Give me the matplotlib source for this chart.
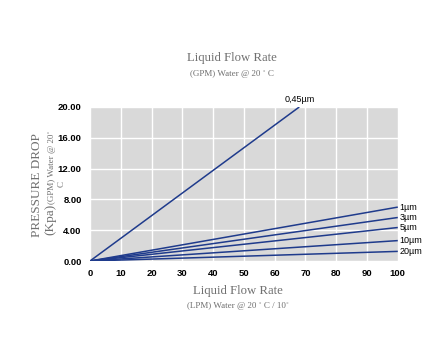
import matplotlib
matplotlib.use("Agg")
import matplotlib.pyplot as plt

# flow in LPM, pressure drop in Kpa (straight lines from origin)
labels = ["0,45µm", "1µm", "3µm", "5µm", "10µm", "20µm"]
x_end = [68, 100, 100, 100, 100, 100]
y_end = [20.0, 7.0, 5.65, 4.35, 2.65, 1.25]

xticks = [0, 10, 20, 30, 40, 50, 60, 70, 80, 90, 100]
yticks = [0, 4, 8, 12, 16, 20]

line_color = "#1f3b8c"
title_color = "#707070"

fig = plt.figure(figsize=(4.41, 3.37), dpi=100)
ax = fig.add_axes([0.204, 0.2255, 0.698, 0.457])
ax.set_facecolor("#d9d9d9")

for lab, xe, ye in zip(labels, x_end, y_end):
    ax.plot([0, xe], [0, ye], color=line_color, lw=1.1, solid_capstyle="butt")
    if xe < 100:
        ax.text(xe, ye + 0.4, lab, ha="center", va="bottom", fontsize=6.5,
                family="Liberation Sans", clip_on=False)
    else:
        ax.text(xe + 0.5, ye, lab, ha="left", va="center", fontsize=6.5,
                family="Liberation Sans", clip_on=False)

ax.set_xlim(0, 100)
ax.set_ylim(0, 20)
ax.set_xticks(xticks)
ax.set_yticks(yticks)
ax.set_xticklabels([str(v) for v in xticks])
ax.set_yticklabels(["%.2f" % v for v in yticks])
ax.tick_params(length=0, labelsize=6.8, pad=6)
for lbl in ax.get_xticklabels() + ax.get_yticklabels():
    lbl.set_family("Liberation Sans")
    lbl.set_fontweight("bold")
ax.grid(True, color="white", lw=1)
ax.set_axisbelow(True)
for s in ax.spines.values():
    s.set_visible(False)

serif = "Liberation Serif"
fig.text(0.526, 0.82, "Liquid Flow Rate", ha="center", fontsize=9.2,
         family=serif, color=title_color)
fig.text(0.526, 0.775, "(GPM) Water @ 20 ˚ C", ha="center", fontsize=6.5,
         family=serif, color=title_color)
fig.text(0.54, 0.128, "Liquid Flow Rate", ha="center", fontsize=9.2,
         family=serif, color=title_color)
fig.text(0.54, 0.085, "(LPM) Water @ 20 ˚ C / 10˚", ha="center", fontsize=6.5,
         family=serif, color=title_color)

fig.text(0.084, 0.451, "PRESSURE DROP", rotation=90, ha="center", va="center",
         fontsize=9.5, family=serif, color=title_color)
fig.text(0.115, 0.395, "(Kpa)", rotation=90, ha="center", va="top",
         fontsize=9.5, family=serif, color=title_color)
fig.text(0.117, 0.395, "(GPM) Water @ 20˚", rotation=90, ha="center", va="bottom",
         fontsize=6.5, family=serif, color=title_color)
fig.text(0.14, 0.454, "C", rotation=90, ha="center", va="center",
         fontsize=6.5, family=serif, color=title_color)

fig.savefig("out.png", dpi=100)
